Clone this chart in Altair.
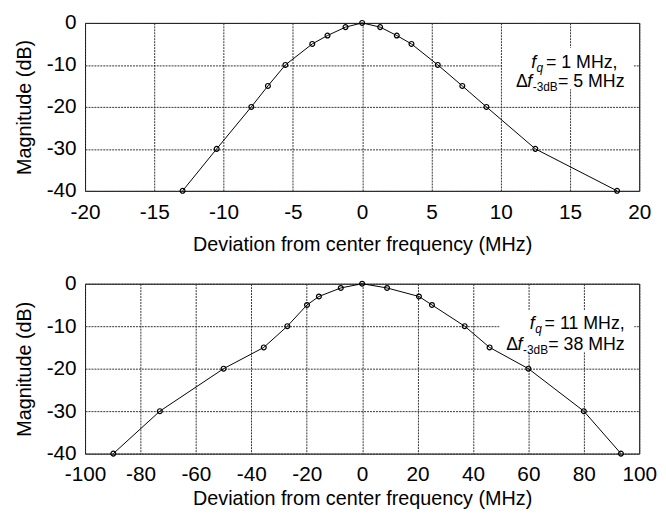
import altair as alt
import pandas as pd

FONT = "Liberation Sans"

# ---- data ----
x_top = [-12.96, -10.5, -8.0, -6.8, -5.54, -3.6, -2.5, -1.2, 0.0, 1.3, 2.5, 3.56, 5.46, 7.23, 8.97, 12.5, 18.4]
y_top = [-40, -30, -20, -15, -10, -5, -3, -1, 0, -1, -3, -5, -10, -15, -20, -30, -40]
x_bot = [-89.8, -73.0, -50.0, -35.5, -27.0, -19.9, -15.6, -7.7, 0.0, 9.0, 20.5, 25.2, 37.0, 46.0, 60.0, 80.0, 93.4]
y_bot = [-40, -30, -20, -15, -10, -5, -3, -1, 0, -1, -3, -5, -10, -15, -20, -30, -40]

x_ticks_top = [-20, -15, -10, -5, 0, 5, 10, 15, 20]
x_ticks_bot = [-100, -80, -60, -40, -20, 0, 20, 40, 60, 80, 100]
y_ticks = [0, -10, -20, -30, -40]

x_title = "Deviation from center frequency (MHz)"
y_title = "Magnitude (dB)"

# annotation texts
fq_top = "= 1 MHz,"
df_top = "= 5 MHz"
fq_bot = "= 11 MHz,"
df_bot = "= 38 MHz"

# annotation anchors (data units): box [x0, x1, y0, y1], line1 (x, y), line2 (x, y)
box_top = [10.1, 19.6, -5.9, -15.8]
line1_top = [12.2, -9.6]
line2_top = [11.1, -14.1]
box_bot = [49.6, 98.2, -6.3, -16.0]
line1_bot = [60.5, -9.6]
line2_bot = [52.0, -14.4]


def panel(xs, ys, xdom, xticks, height, box, l1, l2, t1, t2, lpad, tpad):
    xscale = alt.Scale(domain=xdom, nice=False, zero=False)
    yscale = alt.Scale(domain=[-40, 0], nice=False, zero=False)
    xaxis = alt.Axis(values=xticks, title=x_title, grid=True, labelPadding=lpad,
                     titlePadding=tpad, labelExpr="'' + datum.value",
                     labelOverlap=False, labelFlush=False)
    yaxis = alt.Axis(values=y_ticks, title=y_title, grid=True, labelPadding=9,
                     titlePadding=12, labelExpr="'' + datum.value",
                     labelOverlap=False, labelFlush=False)

    df = pd.DataFrame({"x": xs, "y": ys})
    line = alt.Chart(df).mark_line(color="black", strokeWidth=1).encode(
        x=alt.X("x:Q", scale=xscale, axis=xaxis),
        y=alt.Y("y:Q", scale=yscale, axis=yaxis),
    )
    pts = alt.Chart(df).mark_point(shape="circle", size=24, filled=False,
                                   color="black", strokeWidth=1.2, opacity=1).encode(
        x=alt.X("x:Q", scale=xscale, axis=xaxis),
        y=alt.Y("y:Q", scale=yscale, axis=yaxis),
    )

    bdf = pd.DataFrame({"x": [box[0]], "x2": [box[1]], "y": [box[2]], "y2": [box[3]]})
    rect = alt.Chart(bdf).mark_rect(fill="white", opacity=1).encode(
        x=alt.X("x:Q", scale=xscale, axis=xaxis),
        x2="x2:Q",
        y=alt.Y("y:Q", scale=yscale, axis=yaxis),
        y2="y2:Q",
    )

    def txt(anchor, s, size, style, dx, dy):
        d = pd.DataFrame({"x": [anchor[0]], "y": [anchor[1]], "t": [s]})
        return alt.Chart(d).mark_text(align="left", baseline="middle", font=FONT,
                                      fontSize=size, fontStyle=style, color="black",
                                      dx=dx, dy=dy).encode(
            x=alt.X("x:Q", scale=xscale, axis=xaxis),
            y=alt.Y("y:Q", scale=yscale, axis=yaxis),
            text="t:N",
        )

    texts = [
        txt(l1, "f", 18, "italic", 0, 0),
        txt(l1, "q", 12, "italic", 5.5, 5),
        txt(l1, t1, 18, "normal", 15, 0),
        txt(l2, "\u0394", 18, "normal", 0, 0),
        txt(l2, "f", 18, "italic", 11.5, 0),
        txt(l2, "-3dB", 12, "normal", 17, 5),
        txt(l2, t2, 18, "normal", 42.5, 0),
    ]

    return alt.layer(rect, *texts, line, pts).properties(width=561, height=height)


top = panel(x_top, y_top, [-20, 20], x_ticks_top, 170, box_top, line1_top, line2_top,
            fq_top, df_top, 11, 12)
bot = panel(x_bot, y_bot, [-100, 100], x_ticks_bot, 172, box_bot, line1_bot, line2_bot,
            fq_bot, df_bot, 10, 5)

chart = alt.vconcat(top, bot, spacing=17).properties(
    padding={"left": 6, "top": 0, "right": 0, "bottom": 0},
    background="white",
).configure_view(stroke="black", strokeWidth=1).configure_axis(
    labelFont=FONT, titleFont=FONT, labelFontSize=21, titleFontSize=20,
    labelColor="black", titleColor="black", titleFontWeight="normal",
    domain=False, ticks=False, gridColor="#333333", gridDash=[2, 1],
    gridWidth=1, gridOpacity=1,
)

chart.save("out.html", embed_options={"renderer": "svg", "actions": False})
